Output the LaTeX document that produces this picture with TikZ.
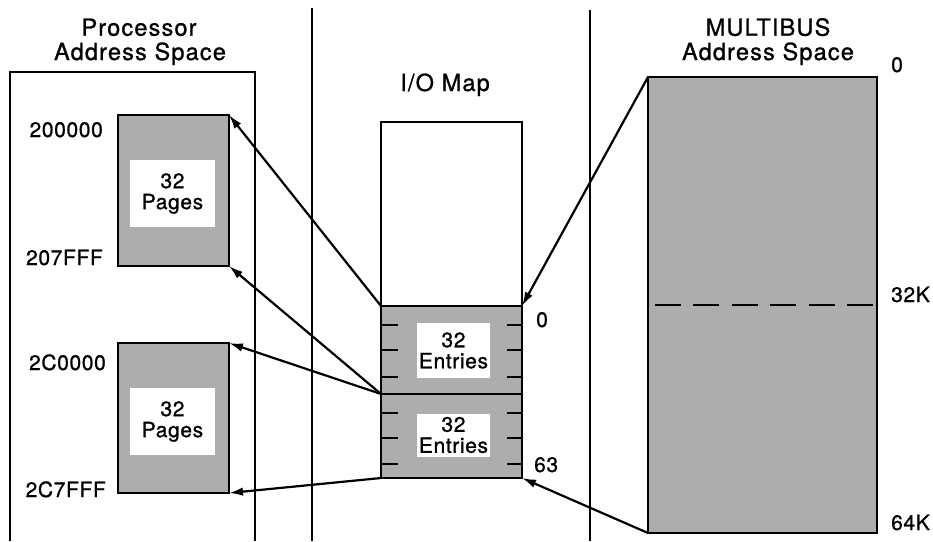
\documentclass[tikz,border=0pt]{standalone}
\usepackage{fontspec}
\setmainfont{TeX Gyre Heros}
\newfontfamily\titlefont[LetterSpace=5,FakeBold=1]{TeX Gyre Heros}
\newfontfamily\labelfont[LetterSpace=3,FakeBold=1]{TeX Gyre Heros}
\usetikzlibrary{arrows.meta}

\begin{document}
\begin{tikzpicture}[x=1pt,y=-1pt,
  box/.style={draw, line width=2.4pt, outer sep=0pt, inner sep=0pt},
  shaded/.style={box, fill=black!32},
  blank/.style={box, fill=white},
  hole/.style={fill=white, draw=none, inner sep=0pt, outer sep=0pt, align=center,
    font=\labelfont\fontsize{21}{21}\selectfont},
  title/.style={anchor=base, inner sep=0pt, font=\titlefont\fontsize{23.5}{24}\selectfont},
  addr/.style={inner sep=0pt, font=\labelfont\fontsize{21}{21}\selectfont},
  link/.style={line width=2.2pt, -{Latex[length=14pt,width=8.5pt]}},
  tickmark/.style={line width=1.8pt},
  rule/.style={line width=2.4pt}]

\useasboundingbox (0,0) rectangle (933,541);

% column separators
\coordinate (sepAtop) at (312,8);
\coordinate (sepAbot) at (312,541);
\coordinate (sepBtop) at (590,10);
\coordinate (sepBbot) at (590,541);
\draw[rule] (sepAtop) -- (sepAbot);
\draw[rule] (sepBtop) -- (sepBbot);

% processor address space frame (open at the bottom)
\coordinate (psBL) at (10,541);
\coordinate (psTL) at (10,72);
\coordinate (psTR) at (255,72);
\coordinate (psBR) at (255,541);
\draw[rule] (psBL) -- (psTL) -- (psTR) -- (psBR);

% column titles
\node[title] (ptA) at (139,35.7) {Processor};
\node[title] (ptB) at (140,60) {Address Space};
\node[title] (iot) at (445,91) {I/O Map};
\node[title] (mtA) at (768,35.7) {MULTIBUS};
\node[title] (mtB) at (768,60) {Address Space};

% processor pages
\node[shaded, minimum width=111pt, minimum height=151pt] (pg1) at (173.5,190.5) {};
\node[hole, minimum width=85pt, minimum height=67pt] (pg1in) at (172.5,193.5) {32\\Pages};
\node[shaded, minimum width=111pt, minimum height=150pt] (pg2) at (173.5,418) {};
\node[hole, minimum width=85pt, minimum height=67pt] (pg2in) at (172.5,421.5) {32\\Pages};

\node[addr, anchor=base east] (a1) at (103,137) {200000};
\node[addr, anchor=base east] (a2) at (103,265) {207FFF};
\node[addr, anchor=base east] (a3) at (106,370) {2C0000};
\node[addr, anchor=base east] (a4) at (106,497) {2C7FFF};

% I/O map
\node[blank, minimum width=141pt, minimum height=184pt] (iotop) at (451.5,214) {};
\node[shaded, minimum width=141pt, minimum height=88pt] (ioA) at (451.5,350) {};
\node[shaded, minimum width=141pt, minimum height=84pt] (ioB) at (451.5,436) {};
\node[hole, minimum width=73pt, minimum height=55pt] (ioAin) at (453.5,350.5) {32\\Entries};
\node[hole, minimum width=73pt, minimum height=43pt] (ioBin) at (453.5,435) {32\\Entries};
\foreach \ty in {325,350,377,413,438,464} {
  \draw[tickmark] (381,\ty) -- (398,\ty);
  \draw[tickmark] (507,\ty) -- (522,\ty);
}
\node[addr, anchor=base west] (e0) at (536,327) {0};
\node[addr, anchor=base west] (e63) at (534,472) {63};

% MULTIBUS address space
\node[shaded, minimum width=229pt, minimum height=456pt] (mb) at (762.5,305) {};
\coordinate (halfL) at (655,305);
\coordinate (halfR) at (873,305);
\draw[line width=2.2pt, dash pattern=on 26pt off 12.4pt] (halfL) -- (halfR);
\node[addr, anchor=base west] (m0) at (891,72) {0};
\node[addr, anchor=base west] (m32) at (891,302) {32K};
\node[addr, anchor=base west] (m64) at (891,530) {64K};

% mapping arrows
\draw[link] (ioA.north west) -- (pg1.north east);
\draw[link] (ioB.north west) -- (pg1.south east);
\draw[link] (ioB.north west) -- (pg2.north east);
\draw[link] (ioB.south west) -- (pg2.south east);
\draw[link] (mb.north west) -- (ioA.north east);
\draw[link] (mb.south west) -- (ioB.south east);
\end{tikzpicture}
\end{document}
